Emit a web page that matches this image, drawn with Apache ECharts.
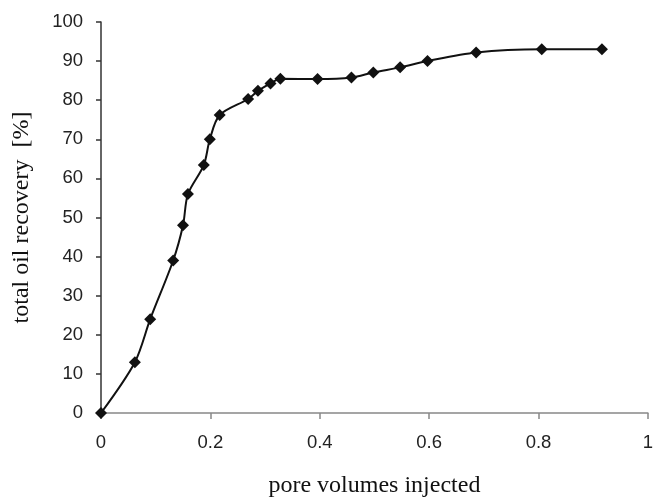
<!DOCTYPE html>
<html>
<head>
<meta charset="utf-8">
<script src="https://cdn.jsdelivr.net/npm/echarts@6/dist/echarts.min.js"></script>
<style>html,body{margin:0;padding:0;background:#fff;}#c{width:656px;height:503px;}</style>
</head>
<body>
<div id="c"></div>
<script>
const poreVolumes = [0, 0.062, 0.09, 0.132, 0.15, 0.159, 0.188, 0.199, 0.217, 0.269, 0.287, 0.31, 0.328, 0.396, 0.458, 0.498, 0.547, 0.597, 0.686, 0.806, 0.916];
const oilRecovery = [0, 13, 24, 39, 48, 56, 63.4, 70, 76.2, 80.3, 82.4, 84.3, 85.5, 85.4, 85.8, 87.1, 88.4, 90, 92.2, 93, 93];
const xTicks = [0, 0.2, 0.4, 0.6, 0.8, 1];
const yTicks = [0, 10, 20, 30, 40, 50, 60, 70, 80, 90, 100];

const chart = echarts.init(document.getElementById('c'), null, {renderer: 'canvas'});
chart.setOption({
  animation: false,
  backgroundColor: '#ffffff',
  grid: {left: 101, right: 4, top: 22, bottom: 86, containLabel: false},
  xAxis: {
    type: 'value', min: xTicks[0], max: xTicks[xTicks.length - 1], interval: 0.2,
    name: 'pore volumes injected', nameLocation: 'middle', nameGap: 61,
    nameTextStyle: {fontFamily: 'Liberation Serif', fontSize: 24, color: '#111'},
    axisLine: {show: true, lineStyle: {color: '#888', width: 1.5}},
    axisTick: {show: true, length: 6, lineStyle: {color: '#888', width: 1.5}},
    axisLabel: {fontFamily: 'Liberation Sans', fontSize: 18.5, color: '#222', margin: 20,
      formatter: v => String(v)},
    splitLine: {show: false}
  },
  yAxis: {
    type: 'value', min: yTicks[0], max: yTicks[yTicks.length - 1], interval: 10,
    name: 'total oil recovery  [%]', nameLocation: 'middle', nameGap: 67,
    nameTextStyle: {fontFamily: 'Liberation Serif', fontSize: 24, color: '#111'},
    axisLine: {show: true, lineStyle: {color: '#333', width: 1.5}},
    axisTick: {show: true, length: 5, lineStyle: {color: '#333', width: 1.5}},
    axisLabel: {fontFamily: 'Liberation Sans', fontSize: 18.5, color: '#222', margin: 18},
    splitLine: {show: false}
  },
  series: [{
    type: 'line',
    data: poreVolumes.map((x, i) => [x, oilRecovery[i]]),
    smooth: 0.3,
    symbol: 'diamond',
    symbolSize: 12,
    itemStyle: {color: '#111'},
    lineStyle: {color: '#111', width: 2},
    clip: false
  }]
});
</script>
</body>
</html>
